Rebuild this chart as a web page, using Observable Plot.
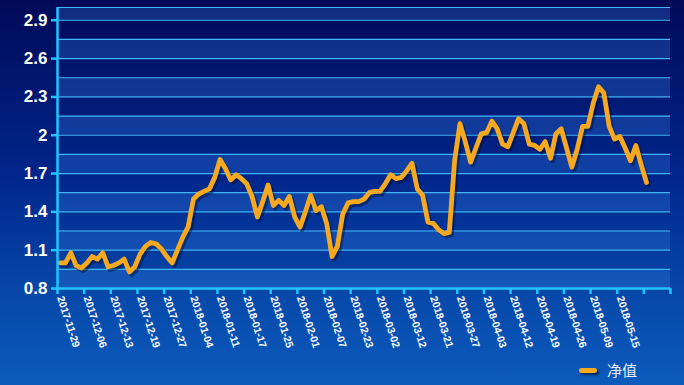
<!DOCTYPE html>
<html>
<head>
<meta charset="utf-8">
<script src="https://cdn.jsdelivr.net/npm/d3@7"></script>
<script src="https://cdn.jsdelivr.net/npm/@observablehq/plot@0.6"></script>
<style>
html,body{margin:0;padding:0;}
body{width:684px;height:385px;overflow:hidden;position:relative;
  background:linear-gradient(to bottom,#000a58 0%,#01258a 45%,#0647a8 75%,#0b5bbd 100%);
  font-family:"Liberation Sans",Arial,sans-serif;}
#chart svg{display:block;background:transparent;overflow:visible;}
#legend{position:absolute;left:0;top:355px;width:684px;height:30px;}
#legend .key{position:absolute;left:579px;top:13px;width:18px;height:5px;border-radius:3px;background:#f6a91f;box-shadow:2px 2px 2px rgba(0,0,20,0.55);}
#legend .lab{position:absolute;left:607px;top:5px;font-family:"Noto Sans CJK SC","Noto Sans",sans-serif;font-size:15px;color:#eef0f8;line-height:20px;}
</style>
</head>
<body>
<div id="chart"></div>
<div id="legend"><div class="key"></div><div class="lab">净值</div></div>
<script>
// ---- data ----
const seriesName = "净值";
const navValues = [
  1.00, 1.00, 1.08, 0.98, 0.96, 1.00, 1.05, 1.03, 1.08, 0.97,
  0.98, 1.00, 1.03, 0.93, 0.97, 1.07, 1.13, 1.16, 1.15, 1.11,
  1.05, 1.00, 1.10, 1.20, 1.28, 1.50, 1.54, 1.56, 1.58, 1.67,
  1.81, 1.74, 1.65, 1.69, 1.66, 1.62, 1.52, 1.36, 1.48, 1.61,
  1.45, 1.49, 1.45, 1.52, 1.36, 1.28, 1.40, 1.53, 1.41, 1.44,
  1.31, 1.05, 1.13, 1.38, 1.47, 1.48, 1.48, 1.50, 1.55, 1.56,
  1.56, 1.62, 1.69, 1.66, 1.67, 1.72, 1.78, 1.58, 1.53, 1.32,
  1.31, 1.26, 1.23, 1.24, 1.80, 2.09, 1.95, 1.79, 1.90, 2.01,
  2.02, 2.11, 2.05, 1.93, 1.91, 2.02, 2.13, 2.09, 1.93, 1.92,
  1.89, 1.95, 1.82, 2.01, 2.05, 1.90, 1.75, 1.89, 2.07, 2.07,
  2.25, 2.38, 2.33, 2.07, 1.97, 1.99, 1.90, 1.80, 1.92, 1.77,
  1.63
];
const tickLabels = [
  "2017-11-29","2017-12-06","2017-12-13","2017-12-19","2017-12-27",
  "2018-01-04","2018-01-11","2018-01-17","2018-01-25","2018-02-01",
  "2018-02-07","2018-02-23","2018-03-02","2018-03-12","2018-03-21",
  "2018-03-27","2018-04-03","2018-04-12","2018-04-19","2018-04-26",
  "2018-05-09","2018-05-15"
];
const categoryCount = 115;
const labelInterval = 5;
const yTickValues = [0.8, 1.1, 1.4, 1.7, 2.0, 2.3, 2.6, 2.9];
const yMin = 0.8, yMax = 3.0;

// ---- derived ----
const rows = navValues.map((v, i) => ({i, v}));
const labelIdx = tickLabels.map((_, k) => k * labelInterval);
const tickBoundaries = d3.range(0, categoryCount / labelInterval + 1).map(k => k * labelInterval - 0.5);
const half = (yTickValues[1] - yTickValues[0]) / 2;
const bands = yTickValues.map(t => ({lo: t, hi: Math.min(t + half, yMax)}));
const gridValues = yTickValues.flatMap(t => [t, t + half]).filter(v => v > yMin && v <= yMax + 1e-9).concat([yMax]);

const cyan = "#22c4ff";
const chart = Plot.plot({
  width: 684,
  height: 355,
  marginLeft: 57,
  marginRight: 14,
  marginTop: 7,
  marginBottom: 67,
  style: {background: "transparent", color: "white", fontFamily: "'Liberation Sans', Arial, sans-serif"},
  x: {domain: [-0.5, categoryCount - 0.5], axis: null, label: null},
  y: {domain: [yMin, yMax], axis: null, label: null},
  marks: [
    Plot.rect(bands, {x1: () => -0.5, x2: () => categoryCount - 0.5, y1: "lo", y2: "hi", fill: "#3b86e8", fillOpacity: 0.28}),
    Plot.ruleY(gridValues, {stroke: "#40b6f6", strokeWidth: 1.2}),
    Plot.line(rows, {x: "i", y: "v", stroke: "#000a30", strokeOpacity: 0.45, strokeWidth: 5, dx: 2, dy: 2.5, strokeLinejoin: "round", strokeLinecap: "round"}),
    Plot.line(rows, {x: "i", y: "v", stroke: "#f6a91f", strokeWidth: 4.8, strokeLinejoin: "round", strokeLinecap: "round"}),
    Plot.ruleX([-0.5], {stroke: cyan, strokeWidth: 2.5}),
    Plot.ruleY([yMin], {stroke: cyan, strokeWidth: 2.5}),
    Plot.axisY(yTickValues, {label: null, tickSize: 6, tickPadding: 4, stroke: cyan, strokeWidth: 2.5, fill: "white",
      fontSize: 17, fontWeight: "bold", tickFormat: d => String(+d.toFixed(1))}),
    Plot.axisX(tickBoundaries, {label: null, tickSize: 6, stroke: cyan, strokeWidth: 2.5, tickFormat: () => ""}),
    Plot.axisX(labelIdx, {label: null, tickSize: 0, tickPadding: 8, tickRotate: 72, fill: "white", fontSize: 10.5, fontWeight: "bold",
      tickFormat: i => tickLabels[i / labelInterval]})
  ]
});
document.getElementById("chart").appendChild(chart);
</script>
</body>
</html>
